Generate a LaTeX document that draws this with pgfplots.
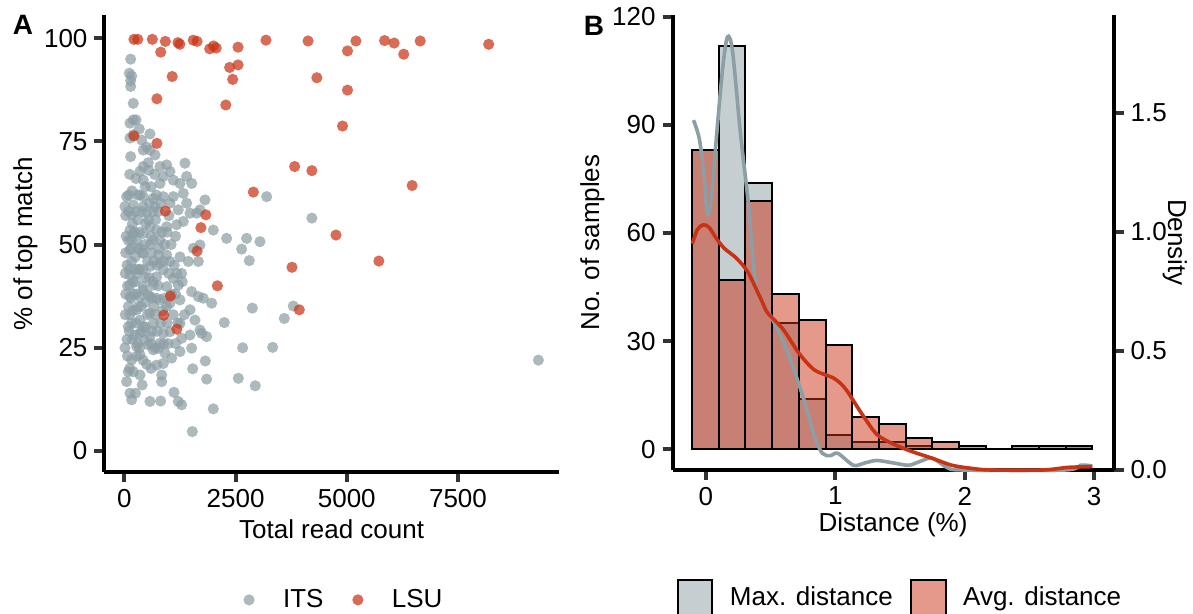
\documentclass[border=0pt]{standalone}
\usepackage{fontspec}
\setmainfont{Liberation Sans}
\usepackage{pgfplots}
\pgfplotsset{compat=1.18}

\definecolor{itsgrey}{HTML}{8C9FA5}
\definecolor{lsured}{HTML}{C93315}
\definecolor{greybar}{HTML}{C5CFD2}
\definecolor{redkey}{HTML}{E4998A}
\definecolor{tickgrey}{HTML}{333333}

\newcommand{\lab}{\fontsize{13}{15}\selectfont}

\pgfplotsset{
  panel/.style={
    scale only axis,
    axis x line*=bottom, axis y line*=left,
    axis line style={-, line width=2pt},
    tick align=outside, major tick length=5pt,
    tick style={line width=2pt, color=tickgrey},
    tick label style={font=\lab},
    label style={font=\lab},
    /pgf/number format/assume math mode=true,
    /pgf/number format/1000 sep={},
    scaled ticks=false,
    legend style={draw=none, fill=none, font=\lab, legend columns=2,
      nodes={inner sep=0pt},
      /tikz/every odd column/.append style={column sep=8.3pt},
      /tikz/every even column/.append style={column sep=8.5pt}},
    legend cell align=left,
  },
  boxkey/.style={legend image code/.code={\draw[##1] (0pt,-8.7pt) rectangle (17.4pt,8.7pt);}},
  dotkey/.style={legend image code/.code={%
      \path[draw=none, fill=none] (0pt,-8.7pt) rectangle (17.4pt,8.7pt);
      \fill[##1, draw=none] (8.7pt,0pt) circle[radius=2.8pt];}},
  pts/.style={only marks, mark=*, mark size=2.8pt, color=#1,
    mark options={draw=#1, draw opacity=0, fill=#1, fill opacity=0.72}},
}

\begin{document}
\begin{tikzpicture}
\useasboundingbox (0,0) rectangle (596.5pt,307pt);

% ---------------- panel A
\begin{axis}[panel,
  at={(52.25pt,70.85pt)}, anchor=south west,
  width=227.1pt, height=228.65pt,
  xmin=-447, xmax=9764, ymin=-5.16, ymax=105.6,
  xtick={0,2500,5000,7500}, ytick={0,25,50,75,100},
  xlabel={Total read count}, ylabel={\% of top match},
  xlabel style={at={(axis description cs:0.5,-0.1437)}, anchor=base},
  ylabel style={at={(axis description cs:-0.174,0.5)}, anchor=center},
  legend style={at={(axis description cs:0.512,-0.279)}, anchor=center},
]
\addlegendimage{dotkey, fill=itsgrey, fill opacity=0.72}
\addlegendentry{ITS}
\addlegendimage{dotkey, fill=lsured, fill opacity=0.72}
\addlegendentry{LSU}

% ITS
\addplot[pts=itsgrey, forget plot] coordinates {
(141,94.9)(111,91.5)(164,90.8)(141,89.7)(141,88.3)(200,84.2)(200,80.2)(261,80.2)
(126,79.4)(335,78.0)(200,76.6)(126,75.8)(575,76.8)(389,75.3)(500,73.6)(425,72.9)
(575,72.9)(141,71.3)(688,71.7)(425,68.9)(350,67.7)(425,65.6)(537,69.8)(800,68.9)
(951,69.3)(1025,67.7)(875,66.5)(800,64.8)(1100,65.6)(1250,64.8)(1400,66.5)(1513,64.8)
(1362,69.7)(51,61.6)(13,59.2)(200,59.6)(164,57.2)(425,61.6)(425,59.2)(501,57.6)
(650,61.2)(688,59.2)(875,61.6)(1025,60.0)(1100,61.6)(1324,62.4)(1400,60.0)(1212,58.4)
(1475,57.6)(1625,57.6)(1700,58.4)(1812,60.8)(3199,61.6)(4215,56.4)
(126,53.5)(201,52.7)(163,51.1)(276,51.1)(426,52.7)(575,54.3)(725,53.5)(950,54.3)
(1175,54.8)(1325,55.6)(650,51.1)(800,51.1)(126,48.7)(351,49.1)(575,49.9)(426,47.9)
(763,47.5)(950,47.5)(1025,45.9)(163,45.9)(126,42.6)(276,43.0)(426,43.9)(575,44.7)
(800,45.5)(875,43.9)(725,42.2)(1100,41.8)(1287,43.0)(1437,45.9)(1550,49.1)(1662,45.9)
(1699,49.9)(1999,53.5)(2299,51.5)(2748,51.5)(3048,50.7)(2636,48.9)(2808,46.1)
(126,40.2)(426,39.8)(650,40.2)(950,39.8)(1212,40.2)(351,37.4)(126,37.4)(575,37.4)
(800,36.6)(1025,35.8)(1250,36.6)(1512,38.6)(1475,34.2)(1587,31.7)(1962,35.8)(1774,37.0)
(1662,37.4)(126,33.0)(88,30.1)(276,34.2)(351,31.7)(575,33.4)(426,30.1)(650,30.9)
(875,28.5)(351,28.5)(575,27.7)(1025,28.9)(1250,30.9)(1287,27.3)(1475,28.1)(1699,29.3)
(1849,27.7)(1737,28.5)(2246,31.1)(2876,34.6)(3595,32.1)(3797,35.1)
(13,25.0)(276,25.3)(538,25.7)(763,24.9)(800,26.1)(650,24.5)(913,23.7)(1062,22.5)
(1250,24.1)(1512,24.9)(351,23.3)(163,22.1)(201,19.2)(88,19.2)(351,18.4)(51,16.8)
(838,18.4)(838,16.8)(725,20.8)(875,21.2)(1535,19.9)(1819,21.8)(1849,17.4)(2561,17.6)
(2943,15.8)(2658,25.0)(3333,25.1)(126,14.0)(163,12.4)(575,12.0)(815,12.1)(1115,14.2)
(1212,12.0)(1287,11.2)(1999,10.2)(1527,4.7)(9308,22.0)
(60,45)(240,47)(300,56)(520,46)(620,37)(90,58)(300,62)(480,55)(560,60)(700,56)
(250,41)(380,35)(480,30)(700,33)(60,27)(230,28)(450,27)(620,29)(280,23)(500,21)
(90,35)(210,38)(320,44)(400,48)(600,52)(730,45)(170,63)(260,66)(350,62)(600,64)
(680,67)(120,67)(20,33)(20,43)(40,52)(160,31)(300,26)(420,39)(560,42)(760,40)
(860,34)(960,31)(1100,33)(1150,38)(1000,43)(900,50)(1150,52)(1000,57)(1250,47)
(1300,41)(1350,33)(980,26)(700,25)(600,20)(400,16)(250,14)(120,20)(70,23)
(100,62)(180,55)(260,58)(340,53)(460,50)(540,56)(620,48)(760,58)(840,53)(30,48)
(110,44)(190,41)(270,38)(350,44)(470,42)(530,38)(660,35)(740,29)(820,31)(900,37)
(30,38)(110,29)(190,34)(260,31)(340,25)(420,22)(520,33)(600,26)(660,46)(780,49)
(880,46)(960,53)(1050,50)(1120,45)(1180,43)(1060,38)(950,35)(880,26)(1150,26)(1200,31)
(70,40)(150,49)(230,53)(310,49)(390,58)(470,64)(550,68)(640,58)(720,62)(810,60)
(150,37)(230,44)(310,35)(390,29)(470,36)(640,41)(720,37)(30,57)(90,51)(180,27)
};
% LSU
\addplot[pts=lsured, forget plot] coordinates {
(215,99.7)(301,99.7)(628,99.7)(921,99.2)(1204,98.9)(1247,98.5)(1549,99.5)(1635,99.2)
(1918,97.4)(2004,98.1)(2065,97.6)(2555,97.8)(817,96.6)(3183,99.5)(4129,99.3)(5205,99.3)
(5016,96.9)(5850,99.4)(6065,98.8)(6280,96.1)(6650,99.3)(8190,98.5)(2366,92.9)(2555,93.5)
(2435,90.0)(1075,90.7)(4327,90.4)(5016,87.4)(731,85.3)(2280,83.8)(4904,78.7)(215,76.3)
(731,74.5)(3828,68.9)(4215,67.9)(6469,64.3)(2899,62.7)(921,58.1)(1832,57.2)(1721,54.1)
(1635,48.4)(4757,52.3)(5721,46.0)(3768,44.5)(2091,40.0)(1032,37.5)(3932,34.2)(886,32.9)
(1179,29.5)
};
\end{axis}

\node[font=\fontsize{14}{16}\bfseries\selectfont] at (11.5pt,294.5pt) {A};
\node[font=\fontsize{14}{16}\bfseries\selectfont] at (297pt,294pt) {B};

% ---------------- panel B, counts
\begin{axis}[panel,
  at={(336.3pt,72pt)}, anchor=south west,
  width=220.5pt, height=227.5pt,
  xmin=-0.257, xmax=3.15, ymin=-5.74, ymax=120.5,
  xtick={0,1,2,3}, ytick={0,30,60,90,120},
  xlabel={Distance (\%)}, ylabel={No. of samples},
  xlabel style={at={(axis description cs:0.5,-0.136)}, anchor=base},
  ylabel style={at={(axis description cs:-0.1816,0.5)}, anchor=center},
  legend style={at={(axis description cs:0.513,-0.281)}, anchor=center},
]
\addlegendimage{boxkey, fill=greybar, draw=black, line width=1pt}
\addlegendentry{Max. distance}
\addlegendimage{boxkey, fill=redkey, draw=black, line width=1pt}
\addlegendentry{Avg. distance}

\addplot[ybar interval, fill=greybar, draw=black, line width=1pt, forget plot] coordinates {
(-0.106,83)(0.100,112)(0.306,74)(0.512,35)(0.718,14)(0.925,4)(1.131,2)(1.337,2)
(1.543,1)(1.749,0)(1.955,0)(2.161,0)(2.367,0)(2.573,0)(2.779,1)(2.985,1)};
\addplot[ybar interval, fill=lsured, fill opacity=0.5, draw=black, line width=1pt, forget plot] coordinates {
(-0.106,83)(0.100,47)(0.306,69)(0.512,43)(0.718,36)(0.925,29)(1.131,9)(1.337,7)
(1.543,3)(1.749,2)(1.955,1)(2.161,0)(2.367,1)(2.573,1)(2.779,1)(2.985,1)};
\end{axis}

% ---------------- panel B, density
\begin{axis}[panel,
  at={(336.3pt,72pt)}, anchor=south west,
  width=220.5pt, height=227.5pt,
  axis x line=none, axis y line*=right,
  xmin=-0.257, xmax=3.15, ymin=0, ymax=1.912,
  xtick=\empty, ytick={0,0.5,1,1.5},
  yticklabel style={/pgf/number format/.cd, fixed, fixed zerofill, precision=1},
  ylabel={Density},
  ylabel style={at={(axis description cs:1.139,0.5)}, anchor=center, rotate=180},
  clip=false,
]
\addplot[itsgrey, line width=1.8pt, smooth] coordinates {
(-0.096,1.47)(-0.05,1.39)(-0.012,1.23)(0.009,1.08)(0.04,1.13)(0.085,1.42)(0.13,1.69)
(0.167,1.82)(0.206,1.76)(0.266,1.42)(0.326,1.13)(0.38,0.80)(0.44,0.70)(0.508,0.64)
(0.628,0.50)(0.749,0.31)(0.84,0.14)(0.90,0.07)(0.96,0.06)(1.02,0.07)(1.14,0.02)
(1.23,0.03)(1.32,0.04)(1.445,0.03)(1.566,0.02)(1.65,0.035)(1.748,0.05)(1.865,0.01)
(1.99,0.0)(2.77,0.0)(2.895,0.02)(2.985,0.017)};
\addplot[lsured, line width=1.8pt, smooth] coordinates {
(-0.105,0.95)(-0.066,1.01)(-0.021,1.03)(0.024,1.02)(0.085,0.97)(0.145,0.93)(0.236,0.89)
(0.326,0.83)(0.432,0.71)(0.478,0.66)(0.598,0.59)(0.72,0.49)(0.84,0.42)(0.99,0.385)
(1.08,0.34)(1.20,0.24)(1.32,0.15)(1.445,0.11)(1.595,0.077)(1.745,0.05)(1.90,0.02)
(2.05,0.007)(2.20,0.0)(2.60,0.0)(2.80,0.011)(2.985,0.014)};
\end{axis}
\end{tikzpicture}
\end{document}
